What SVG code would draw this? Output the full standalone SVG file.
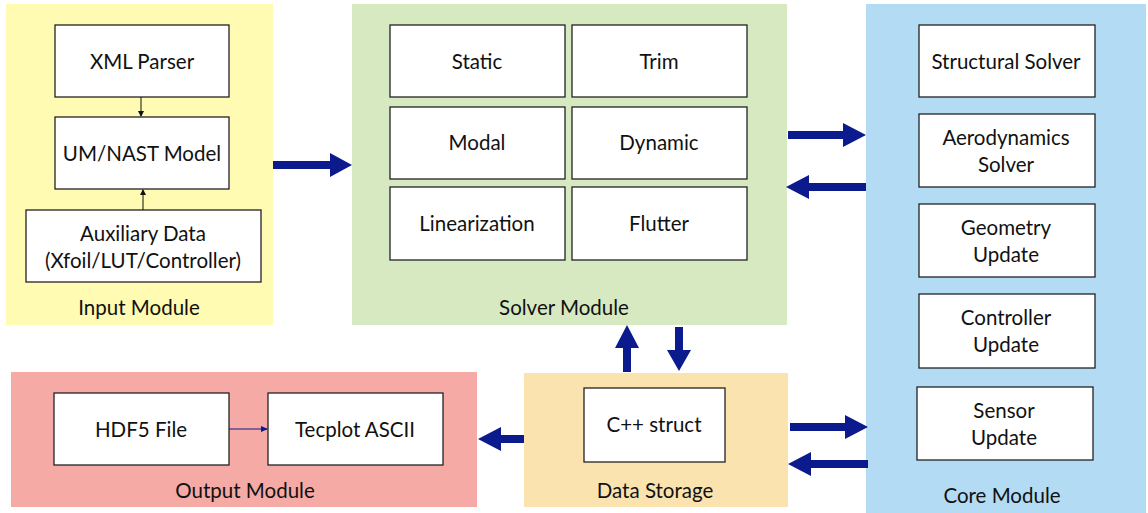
<svg xmlns="http://www.w3.org/2000/svg" width="1148" height="513" viewBox="0 0 1148 513">
<style>
.box{fill:#fff;stroke:#222;stroke-width:1.3}
.t{font-family:Lato,"Open Sans",sans-serif;font-size:20.5px;fill:#111;text-anchor:middle;dominant-baseline:central}
.big{fill:#0b1a8c}
</style>
<defs>
<marker id="sm" markerWidth="6" markerHeight="6" refX="5" refY="3" orient="auto" markerUnits="userSpaceOnUse"><path d="M0,0 L6,3 L0,6 z" fill="#111"/></marker>
<marker id="smb" markerWidth="7" markerHeight="6" refX="6" refY="3" orient="auto" markerUnits="userSpaceOnUse"><path d="M0,0 L7,3 L0,6 z" fill="#0b1a8c"/></marker>
</defs>
<g id="input-module">
<rect x="6" y="4" width="267" height="321" fill="#fffbb2"/>
<text class="t" x="139" y="307">Input Module</text>
</g>
<g id="xml-parser"><rect class="box" x="55" y="25" width="174" height="72"/><text class="t" x="142" y="61">XML Parser</text></g>
<g id="um-nast"><rect class="box" x="55" y="117" width="174" height="72"/><text class="t" x="142" y="153">UM/NAST Model</text></g>
<g id="aux"><rect class="box" x="26" y="210" width="235" height="72"/><text class="t" x="143" y="233">Auxiliary Data</text><text class="t" x="143" y="260">(Xfoil/LUT/Controller)</text></g>

<g id="solver-module">
<rect x="352" y="4" width="435" height="321" fill="#d7e9c1"/>
<text class="t" x="564" y="307">Solver Module</text>
</g>
<g id="static"><rect class="box" x="390" y="25" width="175" height="72"/><text class="t" x="477" y="61">Static</text></g>
<g id="trim"><rect class="box" x="572" y="25" width="175" height="72"/><text class="t" x="659" y="61">Trim</text></g>
<g id="modal"><rect class="box" x="390" y="107" width="175" height="72"/><text class="t" x="477" y="142">Modal</text></g>
<g id="dynamic"><rect class="box" x="572" y="107" width="175" height="72"/><text class="t" x="659" y="142">Dynamic</text></g>
<g id="linearization"><rect class="box" x="390" y="187" width="175" height="73"/><text class="t" x="477" y="223">Linearization</text></g>
<g id="flutter"><rect class="box" x="572" y="187" width="175" height="73"/><text class="t" x="659" y="223">Flutter</text></g>

<g id="core-module">
<rect x="866" y="4" width="280" height="509" fill="#b3dcf4"/>
<text class="t" x="1002" y="495">Core Module</text>
</g>
<g id="structural"><rect class="box" x="919" y="25" width="176" height="72"/><text class="t" x="1006" y="61">Structural Solver</text></g>
<g id="aero"><rect class="box" x="919" y="114" width="176" height="73"/><text class="t" x="1006" y="137">Aerodynamics</text><text class="t" x="1006" y="164">Solver</text></g>
<g id="geometry"><rect class="box" x="919" y="204" width="176" height="73"/><text class="t" x="1006" y="227">Geometry</text><text class="t" x="1006" y="254">Update</text></g>
<g id="controller"><rect class="box" x="919" y="294" width="176" height="74"/><text class="t" x="1006" y="317">Controller</text><text class="t" x="1006" y="344">Update</text></g>
<g id="sensor"><rect class="box" x="917" y="387" width="176" height="73"/><text class="t" x="1004" y="410">Sensor</text><text class="t" x="1004" y="437">Update</text></g>

<g id="output-module">
<rect x="11" y="372" width="466" height="135" fill="#f5aaa5"/>
<text class="t" x="245" y="490">Output Module</text>
</g>
<g id="hdf5"><rect class="box" x="54" y="393" width="175" height="72"/><text class="t" x="141" y="429">HDF5 File</text></g>
<g id="tecplot"><rect class="box" x="268" y="393" width="175" height="72"/><text class="t" x="355" y="429">Tecplot ASCII</text></g>

<g id="data-storage">
<rect x="524" y="373" width="264" height="134" fill="#fbe3b0"/>
<text class="t" x="655" y="490">Data Storage</text>
</g>
<g id="cpp-struct"><rect class="box" x="584" y="388" width="141" height="74"/><text class="t" x="654" y="424">C++ struct</text></g>

<g id="connectors">
<line x1="141" y1="97" x2="141" y2="116" stroke="#111" stroke-width="1" marker-end="url(#sm)"/>
<line x1="143" y1="210" x2="143" y2="190" stroke="#111" stroke-width="1" marker-end="url(#sm)"/>
<line x1="229" y1="429" x2="267" y2="429" stroke="#0b1a8c" stroke-width="1" marker-end="url(#smb)"/>
<path class="big" d="M273,161 H330 V153 L352,165 L330,177 V169 H273 Z"/>
<path class="big" d="M788,131 H843 V123 L866,135 L843,147 V139 H788 Z"/>
<path class="big" d="M866,183 H809 V175 L786,187 L809,199 V191 H866 Z"/>
<path class="big" d="M790,423 H845 V415 L868,427 L845,439 V431 H790 Z"/>
<path class="big" d="M868,460 H811 V452 L788,464 L811,476 V468 H868 Z"/>
<path class="big" d="M524,435 H501 V427 L478,439 L501,451 V443 H524 Z"/>
<path class="big" d="M623,372 V348 H615 L627,325 L639,348 H631 V372 Z"/>
<path class="big" d="M675,327 V350 H667 L679,371 L691,350 H683 V327 Z"/>
</g>
</svg>
